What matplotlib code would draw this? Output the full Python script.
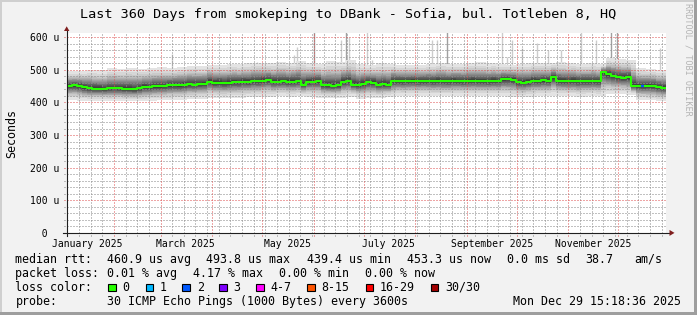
import numpy as np
import matplotlib
matplotlib.use("Agg")
import matplotlib.pyplot as plt
from matplotlib.patches import Rectangle, Polygon
from matplotlib.lines import Line2D
from datetime import datetime, timedelta

plt.rcParams['font.family'] = ['DejaVu Sans Mono', 'DejaVu Sans']

# ---------------- data ----------------
title = "Last 360 Days from smokeping to DBank - Sofia, bul. Totleben 8, HQ"
end_time = datetime(2025, 12, 29, 15, 18, 36)
span_days = 360
start_time = end_time - timedelta(days=span_days)

bin_days = 3  # median resolution (days per step)
median = [
    451, 452, 450, 446, 443, 442, 442, 441, 443, 444,
    443, 441, 441, 440, 443, 448, 447, 449, 449, 450,
    452, 453, 452, 454, 456, 455, 456, 457, 464, 460,
    461, 459, 461, 463, 462, 464, 463, 466, 465, 467,
    469, 464, 464, 465, 463, 464, 465, 454, 463, 464,
    465, 453, 452, 451, 452, 463, 465, 455, 454, 457,
    462, 461, 454, 456, 455, 466, 466, 465, 466, 467,
    465, 466, 466, 465, 467, 466, 465, 467, 466, 465,
    466, 467, 466, 466, 465, 467, 466, 471, 472, 470,
    462, 461, 463, 467, 466, 468, 467, 477, 467, 466,
    466, 467, 465, 466, 465, 466, 465, 493, 487, 481,
    478, 476, 477, 451, 451, 450, 451, 450, 447, 445,
]

smoke_bin_days = 6  # smoke envelope resolution
smoke_lo = [
    408, 405, 404, 405, 403, 404, 404, 403, 405, 406,
    407, 408, 410, 412, 415, 413, 414, 415, 416, 418,
    418, 420, 418, 420, 418, 415, 414, 415, 418, 412,
    414, 415, 416, 420, 420, 421, 420, 419, 420, 421,
    420, 420, 421, 420, 418, 416, 418, 420, 421, 420,
    419, 418, 420, 419, 425, 426, 424, 408, 406, 404,
]
smoke_hi = [
    495, 497, 500, 498, 505, 503, 505, 504, 506, 508,
    507, 510, 512, 511, 516, 515, 518, 517, 520, 522,
    521, 525, 522, 528, 520, 519, 526, 524, 530, 518,
    516, 520, 519, 515, 514, 516, 518, 520, 518, 519,
    521, 523, 520, 518, 516, 519, 520, 521, 522, 524,
    520, 518, 520, 517, 535, 532, 530, 505, 504, 500,
]

spike_day = [63.3, 114.3, 136.6, 138.4, 148.6, 164.6, 167.6, 169.6, 180.4, 183.4,
             219.3, 222.3, 228.3, 261.2, 264.5, 267.7, 273.3, 282.7, 289.1, 296.8,
             308.8, 317.8, 327.0, 330.3, 356.4]
spike_top = [550, 525, 545, 571, 620, 592, 620, 600, 620, 530,
             592, 590, 620, 620, 540, 592, 567, 582, 560, 560,
             620, 592, 620, 620, 566]
spike_shade = ['l', 'l', 'l', 'l', 'm', 'l', 'm', 'l', 'l', 'l',
               'l', 'l', 'm', 'l', 'l', 'l', 'l', 'l', 'l', 'l',
               'l', 'l', 'm', 'm', 'l']

loss_event_start = [345.2]
loss_event_end = [346.6]
loss_event_class = [2]

y_ticks = [0, 100, 200, 300, 400, 500, 600]
y_tick_labels = ["  0", "100 u", "200 u", "300 u", "400 u", "500 u", "600 u"]
x_label_dates = [datetime(2025, m, 16) for m in (1, 3, 5, 7, 9, 11)]
x_labels = ["January 2025", "March 2025", "May 2025", "July 2025",
            "September 2025", "November 2025"]

legend_line1 = ["median rtt:", "460.9 us avg", "493.8 us max", "439.4 us min",
                "453.3 us now", "0.0 ms sd", "38.7", "am/s"]
legend_line2 = ["packet loss:", "0.01 % avg", "4.17 % max", "0.00 % min", "0.00 % now"]
loss_caption = "loss color:"
loss_labels = ["0", "1", "2", "3", "4-7", "8-15", "16-29", "30/30"]
loss_colors = ['#26ff00', '#00b8ff', '#0059ff', '#7e00ff', '#ff00ff',
               '#ff5500', '#ff0000', '#a10000']
probe_caption = "probe:"
probe_text = "30 ICMP Echo Pings (1000 Bytes) every 3600s"
stamp_text = "Mon Dec 29 15:18:36 2025"

# ---------------- layout (pixels) ----------------
W, H = 697, 315
PL, PR, PT, PB = 66.7, 666.0, 33.3, 232.9
YMAX = 612

GRID_COL = (0.56, 0.56, 0.56, 0.55)
MGRID_COL = (0.87, 0.31, 0.31, 0.50)
ARROW_COL = '#801f1f'
AXIS_COL = '#1f1f1f'


def fx(px):
    return px / W


def fy(py):
    return 1 - py / H


def tday(dt):
    return (dt - start_time).total_seconds() / 86400.0


fig = plt.figure(figsize=(W / 100, H / 100), dpi=100)
fig.patch.set_facecolor('#f2f2f2')

# 3D-ish frame
fig.add_artist(Rectangle((0, 1 - 2 / H), 1, 2 / H, transform=fig.transFigure,
                         color='#cfcfcf', lw=0, zorder=0))
fig.add_artist(Rectangle((0, 0), 2 / W, 1, transform=fig.transFigure,
                         color='#cfcfcf', lw=0, zorder=0))
fig.add_artist(Rectangle((0, 0), 1, 3 / H, transform=fig.transFigure,
                         color='#9e9e9e', lw=0, zorder=0))
fig.add_artist(Rectangle((1 - 3 / W, 0), 3 / W, 1, transform=fig.transFigure,
                         color='#9e9e9e', lw=0, zorder=0))

ax = fig.add_axes([fx(PL), fy(PB), (PR - PL) / W, (PB - PT) / H])
ax.set_facecolor('white')
ax.set_xlim(0, span_days)
ax.set_ylim(0, YMAX)
for s in ax.spines.values():
    s.set_visible(False)

px_day = (PR - PL) / span_days
px_u = (PB - PT) / YMAX

# spikes (drawn under the smoke)
shade_map = {'l': '#cccccc', 'm': '#a0a0a0'}
ax.vlines(spike_day, 450, spike_top, colors=[shade_map[s] for s in spike_shade],
          lw=1.0, zorder=1)

# smoke
edges = np.arange(0, span_days + bin_days, bin_days)
med = np.array(median, dtype=float)
rep = smoke_bin_days // bin_days
lo = np.repeat(np.array(smoke_lo, dtype=float), rep)
hi = np.repeat(np.array(smoke_hi, dtype=float), rep)
widths = [1.0, 0.82, 0.70, 0.61, 0.54, 0.48, 0.43, 0.38, 0.33, 0.28,
          0.23, 0.18, 0.13, 0.08, 0.04]
half = 15
for k, w in enumerate(widths, start=1):
    g = int(190 / half * (half - k)) + 50
    col = '#%02x%02x%02x' % (g, g, g)
    lower = med - (med - lo) * w
    upper = med + (hi - med) * w
    ax.fill_between(edges, np.append(lower, lower[-1]), np.append(upper, upper[-1]),
                    step='post', color=col, lw=0, zorder=2)

# grid (1px on / 1px off dots)
ext_x = 3 / px_day
ext_y = 3 / px_u
minor_y = [v for v in range(20, 601, 20) if v % 100 != 0]
major_y = [v for v in range(100, 601, 100)]

weeks = []
d = datetime(start_time.year, start_time.month, start_time.day) + timedelta(days=1)
while d < end_time:
    if d.weekday() == 5:
        weeks.append(tday(d))
    d += timedelta(days=1)
months = [tday(datetime(2025, m, 1)) for m in range(2, 13)]
weeks = [w for w in weeks if all(abs(w - m) > 0.1 for m in months)]


def hgrid(vals, col):
    for v in vals:
        ax.add_line(Line2D([-ext_x, span_days], [v, v], color=col, lw=0.72,
                           dashes=(1.4, 1.4), clip_on=False, zorder=3, antialiased=False))


def vgrid(vals, col):
    for v in vals:
        ax.add_line(Line2D([v, v], [-ext_y, YMAX], color=col, lw=0.72,
                           dashes=(1.4, 1.4), clip_on=False, zorder=3, antialiased=False))


hgrid(minor_y, GRID_COL)
vgrid(weeks, GRID_COL)
hgrid(major_y, MGRID_COL)
vgrid(months, MGRID_COL)

# median line
ax.step(edges, np.append(med, med[-1]), where='post', color='#26ff00', lw=1.5, zorder=4)
for s0, s1, c in zip(loss_event_start, loss_event_end, loss_event_class):
    v = med[int(s0 // bin_days)]
    ax.hlines(v, s0, s1, colors=loss_colors[c], lw=1.6, zorder=5)

# ticks
ax.set_yticks(y_ticks, y_tick_labels)
ax.tick_params(axis='y', length=0, pad=26.1, labelsize=7)
for lbl in ax.get_yticklabels():
    lbl.set_horizontalalignment('left')
ax.set_xticks([tday(t) for t in x_label_dates], x_labels)
ax.tick_params(axis='x', length=0, pad=4.1, labelsize=7)

# axes lines and arrows
fig.add_artist(Line2D([fx(62.7), fx(670)], [fy(PB), fy(PB)], color=AXIS_COL, lw=0.8,
                      zorder=6))
fig.add_artist(Line2D([fx(PL), fx(PL)], [fy(PB + 3), fy(30.5)], color=AXIS_COL, lw=0.8,
                      zorder=6))
fig.add_artist(Polygon([[fx(669.5), fy(PB - 3)], [fx(669.5), fy(PB + 3)], [fx(674.5), fy(PB)]],
                       closed=True, transform=fig.transFigure, color=ARROW_COL, lw=0, zorder=7))
fig.add_artist(Polygon([[fx(PL - 2.7), fy(31)], [fx(PL + 2.7), fy(31)], [fx(PL), fy(26.3)]],
                       closed=True, transform=fig.transFigure, color=ARROW_COL, lw=0, zorder=7))

# title, axis label, watermark
fig.text(0.5, fy(18.3), title, ha='center', va='baseline', fontsize=9.7)
fig.text(fx(11.3), fy(133), "Seconds", rotation=90, ha='center', va='center', fontsize=8.4)
fig.text(fx(688.3), fy(59), "RRDTOOL / TOBI OETIKER", rotation=270, ha='center',
         va='center', fontsize=6.1, color='#b4b4b4')

# legend
LFS = 8.4
base1, base2, base3, base4 = 262.8, 276.9, 291.0, 305.1
x1 = [16, 107.3, 207.0, 307.3, 407.3, 507.3, 586.0, 635.3]
for s, x in zip(legend_line1, x1):
    fig.text(fx(x - 0.6), fy(base1), s, fontsize=LFS, va='baseline', ha='left')
x2 = [16, 107.3, 193.3, 279.3, 365.3]
for s, x in zip(legend_line2, x2):
    fig.text(fx(x - 0.6), fy(base2), s, fontsize=LFS, va='baseline', ha='left')
fig.text(fx(15.4), fy(base3), loss_caption, fontsize=LFS, va='baseline', ha='left')
box_x = [108.3, 145.7, 182.3, 219.3, 256.3, 307.0, 365.7, 430.7]
for lab, col, bx in zip(loss_labels, loss_colors, box_x):
    fig.add_artist(Rectangle((fx(bx), fy(291.3)), 7.7 / W, 7.7 / H, transform=fig.transFigure,
                             facecolor=col, edgecolor='black', lw=0.8, zorder=5))
    fig.text(fx(bx + 15 - 0.6), fy(base3), lab, fontsize=LFS, va='baseline', ha='left')
fig.text(fx(15.4), fy(base4), probe_caption, fontsize=LFS, va='baseline', ha='left')
fig.text(fx(106.7), fy(base4), probe_text, fontsize=LFS, va='baseline', ha='left')
fig.text(fx(512.7), fy(base4), stamp_text, fontsize=LFS, va='baseline', ha='left')

fig.savefig('out.png', dpi=100, facecolor=fig.get_facecolor())
